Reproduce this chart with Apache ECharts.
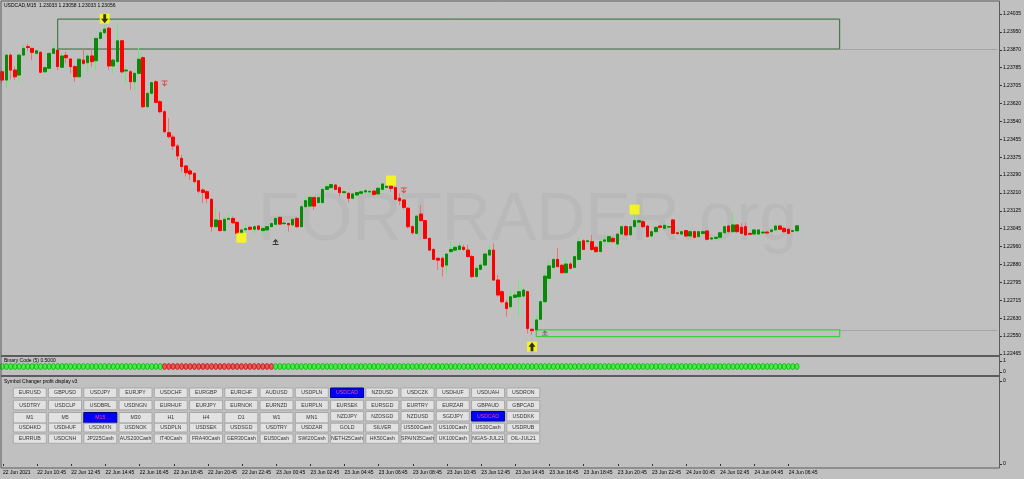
<!DOCTYPE html>
<html><head><meta charset="utf-8">
<script src="https://cdn.jsdelivr.net/npm/echarts@6/dist/echarts.min.js"></script>
<style>html,body{margin:0;padding:0;background:#c0c0c0;}#c{width:1024px;height:479px;}</style>
</head><body><div id="c"></div><script>
// ---------- data ----------
const symbolName = 'USDCAD,M15';
const startUTC = [2021, 5, 22, 8, 45]; // 22 Jun 2021 08:45, M15 bars
const totalSlots = 234; // bars + chart shift space
const opens = [
1.23766,1.23728,1.23843,1.23774,1.23751,1.23843,1.23882,1.23874,1.23851,1.23856,
1.23766,1.23782,1.23851,1.23866,1.23787,1.23842,1.23825,1.23790,1.23743,1.23820,
1.23808,1.23839,1.23817,1.23920,1.23946,1.23967,1.23793,1.23813,1.23909,1.23770,
1.23766,1.23720,1.23759,1.23831,1.23605,1.23667,1.23720,1.23628,1.23582,1.23485,
1.23465,1.23424,1.23367,1.23332,1.23309,1.23298,1.23264,1.23221,1.23213,1.23178,
1.23052,1.23080,1.23034,1.23086,1.23090,1.23072,1.23021,1.23038,1.23049,1.23040,
1.23055,1.23034,1.23037,1.23052,1.23063,1.23095,1.23066,1.23067,1.23060,1.23090,
1.23052,1.23144,1.23147,1.23186,1.23163,1.23163,1.23224,1.23232,1.23244,1.23232,
1.23209,1.23206,1.23183,1.23198,1.23206,1.23212,1.23212,1.23216,1.23203,1.23224,
1.23233,1.23239,1.23232,1.23183,1.23175,1.23137,1.23052,1.23021,1.23110,1.23080,
1.22998,1.22947,1.22906,1.22906,1.22875,1.22937,1.22944,1.22947,1.22957,1.22944,
1.22914,1.22822,1.22855,1.22875,1.22921,1.22944,1.22806,1.22752,1.22701,1.22683,
1.22726,1.22729,1.22732,1.22752,1.22579,1.22576,1.22625,1.22706,1.22814,1.22864,
1.22901,1.22874,1.22840,1.22880,1.22864,1.22901,1.22987,1.22983,1.22983,1.22957,
1.22937,1.22985,1.22983,1.22998,1.22972,1.23018,1.23052,1.23014,1.23052,1.23073,
1.23075,1.23055,1.23009,1.23029,1.23055,1.23044,1.23050,1.23083,1.23024,1.23018,
1.23034,1.23009,1.23029,1.23006,1.23021,1.23032,1.22995,1.22998,1.23003,1.23024,
1.23055,1.23029,1.23060,1.23049,1.23052,1.23021,1.23018,1.23018,1.23023,1.23027,
1.23029,1.23037,1.23055,1.23044,1.23040,1.23030,1.23033];
const highs = [
1.23774,1.23851,1.23851,1.23790,1.23851,1.23890,1.23894,1.23876,1.23870,1.23859,
1.23790,1.23854,1.23897,1.23870,1.23851,1.23859,1.23828,1.23797,1.23828,1.23874,
1.23851,1.23874,1.23928,1.23959,1.23982,1.23974,1.23828,1.23982,1.23913,1.23790,
1.23774,1.23766,1.23882,1.23836,1.23674,1.23724,1.23728,1.23636,1.23590,1.23552,
1.23475,1.23433,1.23382,1.23336,1.23321,1.23301,1.23267,1.23229,1.23221,1.23183,
1.23137,1.23121,1.23098,1.23114,1.23098,1.23075,1.23044,1.23064,1.23055,1.23060,
1.23060,1.23052,1.23055,1.23072,1.23098,1.23098,1.23075,1.23070,1.23090,1.23098,
1.23152,1.23193,1.23198,1.23190,1.23190,1.23229,1.23255,1.23255,1.23249,1.23240,
1.23221,1.23209,1.23206,1.23213,1.23218,1.23229,1.23221,1.23221,1.23236,1.23255,
1.23249,1.23244,1.23236,1.23206,1.23178,1.23141,1.23060,1.23106,1.23152,1.23083,
1.23003,1.22952,1.22911,1.22914,1.22929,1.22983,1.22968,1.22975,1.22968,1.22968,
1.22921,1.22871,1.22891,1.22929,1.22963,1.22975,1.22829,1.22760,1.22714,1.22760,
1.22752,1.22809,1.22772,1.22757,1.22583,1.22645,1.22714,1.22837,1.22898,1.22906,
1.22952,1.22880,1.22911,1.22886,1.22921,1.23003,1.22994,1.22994,1.23014,1.22963,
1.22991,1.23006,1.23014,1.23003,1.23021,1.23060,1.23060,1.23055,1.23114,1.23086,
1.23083,1.23060,1.23037,1.23055,1.23060,1.23064,1.23058,1.23086,1.23029,1.23037,
1.23037,1.23034,1.23034,1.23034,1.23037,1.23037,1.23006,1.23009,1.23029,1.23060,
1.23060,1.23114,1.23064,1.23070,1.23070,1.23024,1.23040,1.23040,1.23034,1.23031,
1.23044,1.23064,1.23060,1.23052,1.23044,1.23040,1.23058];
const lows = [
1.23714,1.23690,1.23731,1.23728,1.23720,1.23836,1.23863,1.23820,1.23843,1.23759,
1.23759,1.23774,1.23848,1.23774,1.23782,1.23805,1.23759,1.23720,1.23736,1.23797,
1.23766,1.23790,1.23774,1.23913,1.23936,1.23774,1.23759,1.23805,1.23759,1.23713,
1.23682,1.23682,1.23751,1.23598,1.23598,1.23659,1.23621,1.23575,1.23482,1.23459,
1.23405,1.23359,1.23306,1.23283,1.23267,1.23252,1.23206,1.23160,1.23160,1.23029,
1.23044,1.23029,1.23029,1.23083,1.23064,1.23018,1.23014,1.23034,1.23034,1.23021,
1.23034,1.23009,1.23034,1.23049,1.23057,1.23060,1.23060,1.23029,1.23055,1.23047,
1.23052,1.23144,1.23141,1.23129,1.23160,1.23160,1.23221,1.23229,1.23221,1.23190,
1.23206,1.23163,1.23178,1.23190,1.23198,1.23206,1.23190,1.23193,1.23198,1.23218,
1.23229,1.23213,1.23172,1.23152,1.23132,1.23044,1.23014,1.23014,1.23075,1.22994,
1.22941,1.22898,1.22852,1.22822,1.22837,1.22929,1.22937,1.22944,1.22941,1.22911,
1.22814,1.22814,1.22852,1.22871,1.22914,1.22803,1.22729,1.22699,1.22637,1.22675,
1.22722,1.22640,1.22726,1.22560,1.22553,1.22573,1.22622,1.22699,1.22798,1.22860,
1.22864,1.22834,1.22834,1.22855,1.22860,1.22898,1.22944,1.22975,1.22941,1.22932,
1.22932,1.22968,1.22978,1.22978,1.22952,1.23014,1.23006,1.23009,1.23044,1.23052,
1.23044,1.23003,1.22998,1.23024,1.23044,1.23040,1.23044,1.23018,1.23015,1.23014,
1.23003,1.23003,1.22997,1.23003,1.23014,1.22988,1.22991,1.22994,1.22998,1.23018,
1.23024,1.23024,1.23024,1.23018,1.23009,1.23014,1.23014,1.23014,1.23018,1.23018,
1.23024,1.23034,1.23037,1.23024,1.23018,1.23029,1.23033];
const closes = [
1.23728,1.23843,1.23774,1.23743,1.23843,1.23874,1.23878,1.23856,1.23863,1.23764,
1.23785,1.23851,1.23872,1.23790,1.23839,1.23831,1.23790,1.23743,1.23824,1.23805,
1.23839,1.23813,1.23920,1.23946,1.23963,1.23793,1.23820,1.23909,1.23766,1.23774,
1.23720,1.23759,1.23824,1.23605,1.23667,1.23716,1.23625,1.23582,1.23490,1.23467,
1.23424,1.23378,1.23329,1.23301,1.23295,1.23260,1.23216,1.23210,1.23183,1.23052,
1.23083,1.23034,1.23086,1.23090,1.23070,1.23021,1.23037,1.23043,1.23040,1.23052,
1.23040,1.23044,1.23052,1.23067,1.23090,1.23064,1.23069,1.23061,1.23086,1.23052,
1.23144,1.23172,1.23187,1.23147,1.23186,1.23224,1.23236,1.23246,1.23224,1.23209,
1.23213,1.23183,1.23203,1.23209,1.23213,1.23218,1.23215,1.23201,1.23229,1.23249,
1.23239,1.23229,1.23178,1.23172,1.23141,1.23052,1.23024,1.23101,1.23080,1.22998,
1.22944,1.22901,1.22898,1.22868,1.22926,1.22947,1.22957,1.22963,1.22947,1.22914,
1.22822,1.22860,1.22875,1.22926,1.22944,1.22806,1.22737,1.22706,1.22675,1.22729,
1.22737,1.22752,1.22760,1.22583,1.22573,1.22622,1.22706,1.22824,1.22871,1.22901,
1.22868,1.22840,1.22880,1.22860,1.22914,1.22983,1.22947,1.22987,1.22947,1.22937,
1.22983,1.22991,1.23006,1.22983,1.23018,1.23052,1.23014,1.23052,1.23080,1.23080,
1.23052,1.23006,1.23029,1.23049,1.23049,1.23058,1.23052,1.23021,1.23020,1.23029,
1.23009,1.23029,1.23003,1.23029,1.23029,1.22994,1.23000,1.23003,1.23024,1.23052,
1.23029,1.23060,1.23029,1.23021,1.23014,1.23017,1.23037,1.23037,1.23027,1.23023,
1.23037,1.23055,1.23040,1.23029,1.23021,1.23034,1.23056];
// Binary Code (5): 1 = green, 0 = red, one per bar (187 bars)
const binaryCode = [
1,1,1,1,1,1,1,1,1,1, 1,1,1,1,1,1,1,1,1,1, 1,1,1,1,1,1,1,1,1,1, 1,1,1,1,1,1,1,1,0,0,
0,0,0,0,0,0,0,0,0,0, 0,0,0,0,0,0,0,0,0,0, 0,0,0,0,1,1,1,1,1,1, 1,1,1,1,1,1,1,1,1,1,
1,1,1,1,1,1,1,1,1,1, 1,1,1,1,1,1,1,1,1,1, 1,1,1,1,1,1,1,1,1,1, 1,1,1,1,1,1,1,1,1,1,
1,1,1,1,1,1,1,1,1,1, 1,1,1,1,1,1,1,1,1,1, 1,1,1,1,1,1,1,1,1,1, 1,1,1,1,1,1,1,1,1,1,
1,1,1,1,1,1,1,1,1,1, 1,1,1,1,1,1,1,1,1,1, 1,1,1,1,1,1,1];
// signals: [bar index, price]
const bigDownSignals = [[24, 1.24011]];
const bigUpSignals = [[124, 1.22499]];
const yellowSquares = [[56, 1.23001], [91, 1.23265], [148, 1.23131]];
const redDownArrows = [[38, 1.23712], [94, 1.23219]];
const blackUpArrows = [[64, 1.22981]];
const grayUpArrows = [[127, 1.22562]];
// zones: [fromBar, toBar, topPrice, bottomPrice]
const upperZone = [13, 196, 1.24009, 1.23871];
const lowerZone = [125, 196, 1.22576, 1.22545];
// price axis
const priceMin = 1.22465, priceMax = 1.24074, priceStep = 0.000825;
// symbol changer panel
const symbolRow1 = ['EURUSD','GBPUSD','USDJPY','EURJPY','USDCHF','EURGBP','EURCHF','AUDUSD','USDPLN','USDCAD','NZDUSD','USDCZK','USDHUF','USDUAH','USDRON'];
const symbolRow2 = ['USDTRY','USDCLP','USDBRL','USDNGN','EURHUF','EURJPY','EURNOK','EURNZD','EURPLN','EURSEK','EURSGD','EURTRY','EURZAR','GBPAUD','GBPCAD'];
const timeframes = ['M1','M5','M15','M30','H1','H4','D1','W1','MN1'];
const symbolRow3 = ['NZDJPY','NZDSGD','NZDUSD','SGDJPY','USDCAD','USDDKK'];
const symbolRow4 = ['USDHKD','USDHUF','USDMXN','USDNOK','USDPLN','USDSEK','USDSGD','USDTRY','USDZAR','GOLD','SILVER','US500Cash','US100Cash','US30Cash','USDRUB'];
const symbolRow5 = ['EURRUB','USDCNH','JP225Cash','AUS200Cash','IT40Cash','FRA40Cash','GER30Cash','EU50Cash','SWI20Cash','NETH25Cash','HK50Cash','SPAIN35Cash','UK100Cash','NGAS-JUL21','OIL-JUL21'];
const activeSymbol = 'USDCAD', activeTf = 'M15';
const watermarkText = 'FORTRADER.org';

// ---------- build ----------
const MON = ['Jan','Feb','Mar','Apr','May','Jun','Jul','Aug','Sep','Oct','Nov','Dec'];
const t0 = Date.UTC(...startUTC);
const categories = [];
for (let i = 0; i < totalSlots; i++) {
  const d = new Date(t0 + i * 15 * 60000);
  const p = n => String(n).padStart(2, '0');
  categories.push(p(d.getUTCDate()) + ' ' + MON[d.getUTCMonth()] + ' ' + p(d.getUTCHours()) + ':' + p(d.getUTCMinutes()));
}
const nBars = closes.length;
const wickData = closes.map((c, i) => [opens[i], c, lows[i], highs[i]]);
const bodyData = closes.map((c, i) => [opens[i], c, Math.min(opens[i], c), Math.max(opens[i], c)]);
const binaryData = binaryCode.map((v, i) => ({
  value: [i, 0.5],
  itemStyle: v ? {color: '#22ff22', borderColor: '#00a000'} : {color: '#ff3a3a', borderColor: '#b00000'}
}));
const last = nBars - 1;
const titleText = symbolName + '  ' + [opens[last], highs[last], lows[last], closes[last]].map(v => v.toFixed(5)).join(' ');

const FONT = '"Liberation Sans", Arial, sans-serif';
const ARROW_DN = 'path://M3,0 L7,0 L7,5 L10,5 L5,10 L0,5 L3,5 Z';
const ARROW_UP = 'path://M5,0 L10,5 L7,5 L7,10 L3,10 L3,5 L0,5 Z';
const THIN_DN = 'path://M0,0 L10,0 L10,1.6 L5.8,1.6 L5.8,6.5 L8.5,4.5 L9.3,5.4 L5,10 L0.7,5.4 L1.5,4.5 L4.2,6.5 L4.2,1.6 L0,1.6 Z';
const THIN_UP = 'path://M0,10 L10,10 L10,8.4 L5.8,8.4 L5.8,3.5 L8.5,5.5 L9.3,4.6 L5,0 L0.7,4.6 L1.5,5.5 L4.2,3.5 L4.2,8.4 L0,8.4 Z';

// graphic elements (frame, labels, buttons, watermark)
const g = [];
g.push({type:'text', z:0, style:{x:258, y:221, text:watermarkText, font:'68px ' + FONT, fill:'#b9b9b9', textVerticalAlign:'middle', verticalAlign:'middle'}});
const frameColor = '#5c5c5c';
g.push({type:'rect', z:10, shape:{x:1, y:1, width:998.5, height:467}, style:{fill:'none', stroke:frameColor, lineWidth:1}});
g.push({type:'line', z:10, shape:{x1:1, y1:356, x2:999.5, y2:356}, style:{stroke:frameColor, lineWidth:2}});
g.push({type:'line', z:10, shape:{x1:1, y1:376, x2:999.5, y2:376}, style:{stroke:frameColor, lineWidth:2}});
g.push({type:'text', z:10, style:{x:4, y:6, text:titleText, font:'5px ' + FONT, fill:'#000', textVerticalAlign:'middle', verticalAlign:'middle'}});
g.push({type:'text', z:10, style:{x:4, y:360.5, text:'Binary Code (5) 0.5000', font:'5px ' + FONT, fill:'#000', textVerticalAlign:'middle', verticalAlign:'middle'}});
g.push({type:'text', z:10, style:{x:4, y:381.5, text:'Symbol Changer profit display v3', font:'5px ' + FONT, fill:'#000', textVerticalAlign:'middle', verticalAlign:'middle'}});

const BX = 13.3, BP = 35.25, BW = 33;
function addButton(col, y, h, label, active) {
  const x = BX + col * BP;
  g.push({type:'rect', z:10, shape:{x:x, y:y, width:BW, height:h},
    style:{fill: active ? '#0000ff' : '#e2e2e2', stroke: active ? '#000080' : '#a9a9a9', lineWidth:1}});
  g.push({type:'text', z:11, style:{x:x + BW / 2, y:y + h / 2 + 0.3, text:label, font:'5.2px ' + FONT,
    fill: active ? '#ff4d6d' : '#333', textAlign:'center', align:'center', textVerticalAlign:'middle', verticalAlign:'middle'}});
}
symbolRow1.forEach((s, c) => addButton(c, 388, 9.5, s, s === activeSymbol));
symbolRow2.forEach((s, c) => addButton(c, 400.3, 9.5, s, false));
timeframes.forEach((s, c) => addButton(c, 412.5, 10.5, s, s === activeTf));
symbolRow3.forEach((s, c) => addButton(c + timeframes.length, 411.5, 9.5, s, s === activeSymbol));
symbolRow4.forEach((s, c) => addButton(c, 423.2, 8.8, s, false));
symbolRow5.forEach((s, c) => addButton(c, 434, 9.3, s, false));

const hiddenX = gi => ({type:'category', gridIndex:gi, data:categories, boundaryGap:true, show:false});

const option = {
  backgroundColor: '#c0c0c0',
  animation: false,
  grid: [
    {left:0, right:24, top:5, bottom:479 - 354},
    {left:0, right:24, top:361, bottom:479 - 372},
    {left:0, right:24, top:381, bottom:479 - 464}
  ],
  xAxis: [
    hiddenX(0), hiddenX(1),
    {type:'category', gridIndex:2, data:categories, boundaryGap:true, offset:4,
     axisLine:{show:false},
     axisTick:{show:true, alignWithLabel:true, length:2, interval:(i) => i % 8 === 0 && i < nBars, lineStyle:{color:'#333'}},
     axisLabel:{show:true, interval:(i) => i % 8 === 0 && i < nBars, fontSize:5, fontFamily:FONT, color:'#000', align:'left', margin:2,
       formatter:(v, i) => i === 0 ? v.slice(0, 6) + ' ' + startUTC[0] : v},
     splitLine:{show:false}}
  ],
  yAxis: [
    {type:'value', gridIndex:0, position:'right', min:priceMin, max:priceMax, interval:priceStep,
     axisLine:{show:false}, splitLine:{show:false},
     axisTick:{show:true, length:2, lineStyle:{color:'#333'}},
     axisLabel:{fontSize:5, fontFamily:FONT, color:'#000', margin:3, showMaxLabel:false,
       formatter: v => (Math.ceil(v / 0.00005 - 1e-6) * 0.00005).toFixed(5)}},
    {type:'value', gridIndex:1, position:'right', min:0, max:1, interval:1,
     axisLine:{show:false}, splitLine:{show:false}, axisTick:{show:true, length:2, lineStyle:{color:'#333'}},
     axisLabel:{fontSize:5, fontFamily:FONT, color:'#000', margin:3}},
    {type:'value', gridIndex:2, position:'right', min:0, max:1, interval:1,
     axisLine:{show:false}, splitLine:{show:false}, axisTick:{show:true, length:2, lineStyle:{color:'#333'}},
     axisLabel:{fontSize:5, fontFamily:FONT, color:'#000', margin:3, formatter:() => '0'}}
  ],
  graphic: {elements: g},
  series: [
    {type:'candlestick', name:'wicks', xAxisIndex:0, yAxisIndex:0, data:wickData, barWidth:3, z:3,
     itemStyle:{color:'#66ee66', color0:'#ee7070', borderColor:'#66ee66', borderColor0:'#ee7070', borderWidth:1},
     markArea:{silent:true, z:2,
       data:[
         [{xAxis:upperZone[0], yAxis:upperZone[2], itemStyle:{color:'rgba(0,0,0,0)', borderColor:'#2f6a2f', borderWidth:1}},
          {xAxis:upperZone[1], yAxis:upperZone[3]}],
         [{xAxis:lowerZone[0], yAxis:lowerZone[2], itemStyle:{color:'rgba(0,0,0,0)', borderColor:'#3ccf3c', borderWidth:1.2}},
          {xAxis:lowerZone[1], yAxis:lowerZone[3]}]
       ]},
     markLine:{silent:true, symbol:'none', z:2, label:{show:false},
       lineStyle:{color:'#8a8a8a', type:'dotted', width:1},
       data:[
         [{coord:[upperZone[0], upperZone[3]]}, {coord:[totalSlots - 1, upperZone[3]]}],
         [{coord:[lowerZone[1], lowerZone[2]]}, {coord:[totalSlots - 1, lowerZone[2]]}]
       ]}
    },
    {type:'candlestick', name:'bodies', xAxisIndex:0, yAxisIndex:0, data:bodyData, barWidth:3, z:4,
     itemStyle:{color:'#0a8a0a', color0:'#ff0000', borderColor:'#0a8a0a', borderColor0:'#ff0000', borderWidth:1},
     markLine:{silent:true, symbol:'none', z:20,
       lineStyle:{opacity:0},
       label:{show:true, position:'end', distance:1, formatter: () => closes[last].toFixed(5),
         backgroundColor:'#000', color:'#fff', fontSize:5, fontFamily:FONT, padding:[1,2,1,2]},
       data:[{yAxis:closes[last]}]}
    },
    {type:'scatter', xAxisIndex:0, yAxisIndex:0, data:yellowSquares.concat(bigDownSignals, bigUpSignals), symbol:'rect', symbolSize:10, z:5,
     itemStyle:{color:'#ffff00'}},
    {type:'scatter', xAxisIndex:0, yAxisIndex:0, data:bigDownSignals, symbol:ARROW_DN, symbolSize:[7,9], z:6, itemStyle:{color:'#000'}},
    {type:'scatter', xAxisIndex:0, yAxisIndex:0, data:bigUpSignals, symbol:ARROW_UP, symbolSize:[7,9], z:6, itemStyle:{color:'#000'}},
    {type:'scatter', xAxisIndex:0, yAxisIndex:0, data:redDownArrows, symbol:THIN_DN, symbolSize:[6,6], z:6, itemStyle:{color:'#e03030'}},
    {type:'scatter', xAxisIndex:0, yAxisIndex:0, data:blackUpArrows, symbol:THIN_UP, symbolSize:[6,6], z:6, itemStyle:{color:'#111'}},
    {type:'scatter', xAxisIndex:0, yAxisIndex:0, data:grayUpArrows, symbol:THIN_UP, symbolSize:[6,5], z:6, itemStyle:{color:'#555'}},
    {type:'scatter', xAxisIndex:1, yAxisIndex:1, data:binaryData, symbol:'circle', symbolSize:[4,6], z:5,
     itemStyle:{borderWidth:0.8}}
  ]
};
const chart = echarts.init(document.getElementById('c'), null, {renderer:'canvas'});
chart.setOption(option);
</script></body></html>
